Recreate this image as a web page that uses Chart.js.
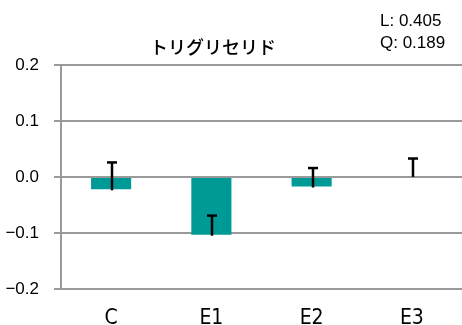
<!DOCTYPE html>
<html>
<head>
<meta charset="utf-8">
<script src="https://cdn.jsdelivr.net/npm/chart.js@4/dist/chart.umd.min.js"></script>
<style>
  html, body { margin: 0; padding: 0; background: #fff; }
  #wrap { width: 462px; height: 325px; position: relative; }
</style>
</head>
<body>
<div id="wrap"><canvas id="c" width="462" height="325"></canvas></div>
<script>
// Group labels and mean changes with their upper error bars
const categories = ['C', 'E1', 'E2', 'E3'];
const meanChange = [-0.022, -0.103, -0.017, 0.002];
const upperError = [0.048, 0.034, 0.033, 0.031];
const yTicks = [-0.2, -0.1, 0.0, 0.1, 0.2];
const chartTitle = 'トリグリセリド';
const statLines = ['L: 0.405', 'Q: 0.189'];

const gridGray = '#9a9a9a';
const barTeal = '#009a96';

// One-sided (upward) error bars with a cap at the top
const errorBars = {
  id: 'errorBars',
  afterDatasetsDraw(chart) {
    const ctx = chart.ctx;
    const y = chart.scales.y;
    const meta = chart.getDatasetMeta(0);
    ctx.save();
    ctx.strokeStyle = '#000';
    ctx.lineWidth = 2.5;
    meta.data.forEach((bar, i) => {
      const x = Math.round(bar.x) + 1;
      const y0 = y.getPixelForValue(meanChange[i]);
      const y1 = y.getPixelForValue(meanChange[i] + upperError[i]);
      ctx.beginPath();
      ctx.moveTo(x, y0 + 1);
      ctx.lineTo(x, y1);
      ctx.stroke();
      ctx.beginPath();
      ctx.moveTo(x - 5, y1);
      ctx.lineTo(x + 5, y1);
      ctx.stroke();
    });
    ctx.restore();
  }
};

// Title and the L/Q trend statistics
const headerText = {
  id: 'headerText',
  afterDraw(chart) {
    const ctx = chart.ctx;
    ctx.save();
    ctx.fillStyle = '#000';
    ctx.textBaseline = 'middle';
    ctx.textAlign = 'center';
    ctx.font = '500 18px "Noto Sans CJK JP"';
    ctx.fillText(chartTitle, 213, 47);
    ctx.textAlign = 'left';
    ctx.textBaseline = 'alphabetic';
    ctx.font = '17px "Liberation Sans", Arial, sans-serif';
    ctx.fillText(statLines[0], 380, 26);
    ctx.fillText(statLines[1], 380, 48);
    ctx.restore();
  }
};

new Chart(document.getElementById('c'), {
  type: 'bar',
  data: {
    labels: categories,
    datasets: [{
      data: meanChange,
      backgroundColor: barTeal,
      borderWidth: 0,
      categoryPercentage: 1.0,
      barPercentage: 0.4
    }]
  },
  options: {
    responsive: false,
    animation: false,
    devicePixelRatio: 1,
    layout: { padding: { top: 65, right: 0, left: 0, bottom: 0 } },
    plugins: {
      legend: { display: false },
      title: { display: false },
      tooltip: { enabled: false }
    },
    scales: {
      x: {
        grid: { display: false },
        border: { display: false },
        ticks: {
          color: '#000',
          padding: 9,
          font: { family: '"DejaVu Sans Condensed", "Liberation Sans Narrow", "Noto Sans CJK JP", sans-serif', size: 21 }
        },
        afterFit(scale) { scale.height = 36; }
      },
      y: {
        min: -0.2,
        max: 0.2,
        afterBuildTicks(scale) { scale.ticks = yTicks.map(v => ({ value: v })); },
        grid: {
          color: gridGray,
          lineWidth: 2,
          tickLength: 7,
          drawTicks: true
        },
        border: { display: true, color: gridGray, width: 2 },
        ticks: {
          color: '#000',
          padding: 15,
          font: { family: '"Liberation Sans", Arial, sans-serif', size: 17 },
          callback: v => (v < 0 ? '\u2212' : '') + Math.abs(v).toFixed(1)
        },
        afterFit(scale) { scale.width = 61; }
      }
    }
  },
  plugins: [errorBars, headerText]
});
</script>
</body>
</html>
